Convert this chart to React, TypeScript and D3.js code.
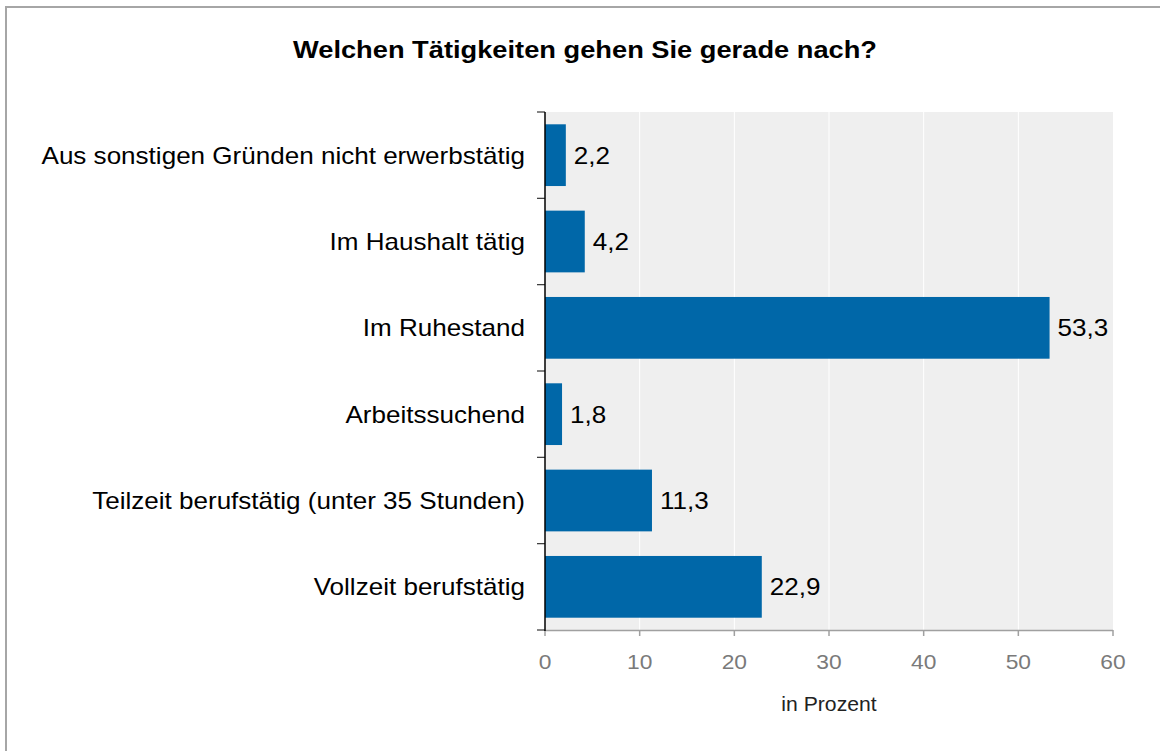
import React, { useEffect, useRef } from "react";
import * as d3 from "d3";

const categories = [
  "Aus sonstigen Gründen nicht erwerbstätig",
  "Im Haushalt tätig",
  "Im Ruhestand",
  "Arbeitssuchend",
  "Teilzeit berufstätig (unter 35 Stunden)",
  "Vollzeit berufstätig",
];
const values = [2.2, 4.2, 53.3, 1.8, 11.3, 22.9];
const xTicks = [0, 10, 20, 30, 40, 50, 60];
const title = "Welchen Tätigkeiten gehen Sie gerade nach?";
const xLabel = "in Prozent";

const W = 1160;
const H = 751;
const FONT = "'Liberation Sans', Arial, sans-serif";
const STRETCH = 1.085;

export default function App() {
  const ref = useRef<SVGSVGElement>(null);

  useEffect(() => {
    const svg = d3.select(ref.current);
    svg.selectAll("*").remove();

    const left = 545, right = 1113, top = 112, bottom = 630;
    const x = d3.scaleLinear().domain([0, 60]).range([left, right]);
    const y = d3.scaleBand<string>().domain(categories).range([top, bottom]).paddingInner(0.285).paddingOuter(0.1425);

    // frame
    svg.append("rect").attr("x", 6).attr("y", 7).attr("width", W + 10).attr("height", H + 10)
      .attr("fill", "#fff").attr("stroke", "#a6a6a6").attr("stroke-width", 2);

    // title
    svg.append("text").attr("x", 585).attr("y", 58).attr("text-anchor", "middle")
      .attr("font-family", FONT).attr("font-size", 23).attr("font-weight", "bold").attr("fill", "#000")
      .attr("textLength", 584).attr("lengthAdjust", "spacingAndGlyphs")
      .text(title);

    // plot background
    svg.append("rect").attr("x", left).attr("y", top).attr("width", right - left).attr("height", bottom - top)
      .attr("fill", "#efefef");

    // gridlines
    svg.append("g").selectAll("line").data(xTicks.filter((t) => t > 0 && t < 60)).join("line")
      .attr("x1", (d) => x(d)).attr("x2", (d) => x(d)).attr("y1", top).attr("y2", bottom)
      .attr("stroke", "#ffffff").attr("stroke-width", 1);

    // bars
    svg.append("g").selectAll("rect").data(categories).join("rect")
      .attr("x", x(0)).attr("y", (d) => y(d)!)
      .attr("width", (d, i) => x(values[i]) - x(0)).attr("height", y.bandwidth())
      .attr("fill", "#0067a8");

    // value labels
    svg.append("g").selectAll("text").data(categories).join("text")
      .attr("class", "st")
      .attr("x", (d, i) => x(values[i]) + 8).attr("y", (d) => y(d)! + y.bandwidth() / 2)
      .attr("dy", "0.36em")
      .attr("font-family", FONT).attr("font-size", 24).attr("fill", "#000")
      .text((d, i) => String(values[i]).replace(".", ","));

    // x axis
    const xa = svg.append("g");
    xa.append("line").attr("x1", left).attr("x2", right).attr("y1", bottom + 0.5).attr("y2", bottom + 0.5)
      .attr("stroke", "#a0a0a0").attr("stroke-width", 1.5);
    xa.selectAll("line.t").data(xTicks).join("line").attr("class", "t")
      .attr("x1", (d) => x(d)).attr("x2", (d) => x(d)).attr("y1", bottom).attr("y2", bottom + 6)
      .attr("stroke", "#a0a0a0").attr("stroke-width", 1.5);
    xa.selectAll("text").data(xTicks).join("text").attr("class", "st")
      .attr("x", (d) => x(d)).attr("y", 669).attr("text-anchor", "middle")
      .attr("font-family", FONT).attr("font-size", 21).attr("fill", "#7a7a7a")
      .text((d) => String(d));

    // x label
    svg.append("text").attr("class", "st").attr("x", 829).attr("y", 711).attr("text-anchor", "middle")
      .attr("font-family", FONT).attr("font-size", 19.5).attr("fill", "#222")
      .text(xLabel);

    // y axis
    const ya = svg.append("g");
    const bounds = categories.map((c) => y(c)! - (y.step() * y.paddingInner()) / 2);
    bounds.push(bottom);
    ya.selectAll("line.t").data(bounds).join("line").attr("class", "t")
      .attr("x1", left - 8).attr("x2", left).attr("y1", (d) => d).attr("y2", (d) => d)
      .attr("stroke", "#333").attr("stroke-width", 1.2);
    ya.append("line").attr("x1", left).attr("x2", left).attr("y1", top).attr("y2", bottom + 1)
      .attr("stroke", "#000").attr("stroke-width", 1.5);
    ya.selectAll("text").data(categories).join("text").attr("class", "st")
      .attr("x", 525).attr("y", (d) => y(d)! + y.bandwidth() / 2).attr("dy", "0.36em")
      .attr("text-anchor", "end")
      .attr("font-family", FONT).attr("font-size", 24).attr("fill", "#000")
      .text((d) => d);

    // horizontal stretch to match reference glyph proportions
    svg.selectAll<SVGTextElement, unknown>("text.st").each(function () {
      const w = this.getComputedTextLength();
      this.setAttribute("textLength", String(w * STRETCH));
      this.setAttribute("lengthAdjust", "spacingAndGlyphs");
    });
  }, []);

  return (
    <svg
      ref={ref}
      width={W}
      height={H}
      style={{ position: "absolute", left: 0, top: 0, background: "#fff" }}
    />
  );
}
